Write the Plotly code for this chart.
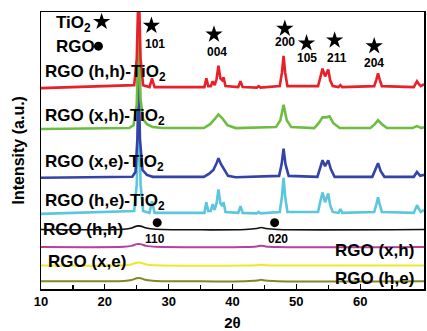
import plotly.graph_objects as go

# ---------------- data ----------------
# 2-theta sample points and intensities (a.u.) for each pattern
hh_tio2_x = [10, 24.6, 25.0, 25.3, 25.6, 26.0, 27.0, 27.25, 27.4, 27.55, 27.8, 35.6, 35.9, 36.2, 36.6, 36.9, 37.2, 37.5, 37.8, 38.1, 38.4, 38.6, 38.9, 40.9, 41.25, 41.6, 43.8, 44.1, 44.4, 47.4, 47.75, 48.0, 48.25, 48.6, 53.4, 53.8, 54.1, 54.5, 54.8, 55.0, 55.3, 55.7, 56.6, 56.9, 57.2, 62.2, 62.55, 62.8, 63.05, 63.4, 68.4, 68.7, 68.9, 69.2, 69.5, 70]
hh_tio2_y = [0, 3, 30, 110, 30, 3, 1, 6, 10, 6, 1, 1, 10, 2, 2, 7, 3, 9, 23, 10, 8, 11, 2, 1, 7, 1, 0.5, 2, 0.5, 2, 16, 33, 16, 2, 2, 12, 20, 12, 17, 19, 8, 2, 1, 3, 1, 2, 9, 15, 9, 2, 1, 5, 7, 4, 2, 4]

xh_tio2_x = [10, 23.8, 24.5, 25.0, 25.3, 25.6, 26.0, 26.6, 27.5, 29, 35.5, 36.5, 37.3, 37.8, 38.4, 39.2, 40.5, 46.8, 47.5, 48.0, 48.5, 49.2, 52.8, 53.5, 54.1, 54.7, 55.2, 55.8, 56.8, 61.6, 62.3, 62.8, 63.4, 64.2, 68.2, 68.9, 69.6, 70]
xh_tio2_y = [0, 1, 4, 25, 105, 30, 10, 5, 2, 1, 1, 5, 11, 15, 11, 4, 1, 2, 9, 25, 9, 2, 1, 6, 12, 12, 13, 6, 1, 1, 5, 9, 5, 1, 1, 3, 1, 2]

xe_tio2_x = [10, 24.3, 24.8, 25.1, 25.3, 25.5, 25.9, 26.6, 27.5, 35.5, 36.3, 37.0, 37.5, 37.8, 38.2, 38.6, 39.3, 40.5, 47.3, 47.7, 48.0, 48.3, 48.8, 53.3, 53.7, 54.1, 54.5, 55.0, 55.4, 56.0, 61.9, 62.4, 62.8, 63.2, 63.8, 68.4, 68.9, 69.4, 70]
xe_tio2_y = [0, 1, 6, 40, 105, 40, 8, 3, 1, 1, 4, 8, 15, 20, 14, 10, 2, 0.5, 2, 14, 30, 14, 2, 1, 10, 18, 12, 18, 9, 1, 1, 8, 15, 7, 1, 1, 6, 2, 3]

he_tio2_x = hh_tio2_x
he_tio2_y = [0, 3, 30, 110, 30, 3, 1, 8, 13, 8, 1, 1, 12, 3, 3, 10, 4, 11, 25, 11, 8, 12, 2, 1, 8, 1, 0.5, 2, 0.5, 2, 18, 37, 18, 2, 2, 14, 22, 12, 18, 21, 9, 2, 1, 5, 1, 2, 10, 17, 10, 2, 1, 6, 9, 5, 2, 4]

rgo_x = [10, 23.0, 24.2, 25.0, 25.6, 26.5, 28.0, 42.0, 43.8, 44.5, 45.2, 47.0, 70]
rgo_hh_y = [0, 0.3, 1.5, 3.5, 3.5, 1.5, 0.3, 0, 1, 2, 1, 0, 0]
rgo_xh_y = [0, 0.3, 1.2, 3.0, 3.0, 1.2, 0.3, 0, 0.6, 1.4, 0.6, 0, 0]
rgo_xe_y = [0, 0.3, 1.2, 3.0, 3.0, 1.2, 0.3, 0, 0.4, 0.8, 0.4, 0, 0]
rgo_he_y = [0, 0.3, 1.2, 3.0, 3.0, 1.2, 0.3, 0, 0.6, 1.4, 0.6, 0, 0]

# vertical stacking offsets of the patterns
offsets = {"hh_tio2": 206, "xh_tio2": 164, "xe_tio2": 114, "he_tio2": 77,
           "rgo_hh": 61, "rgo_xh": 43, "rgo_xe": 24, "rgo_he": 8}

# reflection labels
tio2_hkl = ["101", "004", "200", "105", "211", "204"]
rgo_hkl = ["110", "020"]

x_ticks = [10, 20, 30, 40, 50, 60, 70]

# ---------------- figure ----------------
FONT = "Arial, 'Liberation Sans', Helvetica, sans-serif"

def shift(vals, off):
    return [v + off for v in vals]

fig = go.Figure()

def add_line(x, y, off, color, width, spline=False):
    fig.add_trace(go.Scatter(
        x=x, y=shift(y, off), mode="lines",
        line=dict(color=color, width=width, shape="spline" if spline else "linear", smoothing=0.8),
        hoverinfo="skip", showlegend=False))

add_line(rgo_x, rgo_he_y, offsets["rgo_he"], "#85852a", 2, True)
add_line(rgo_x, rgo_xe_y, offsets["rgo_xe"], "#f0e62a", 2, True)
add_line(rgo_x, rgo_xh_y, offsets["rgo_xh"], "#b83fa0", 2, True)

# label drawn underneath the black RGO (h,h) line
fig.add_trace(go.Scatter(
    x=[10.3], y=[offsets["rgo_hh"] - 1], mode="text", text=["<b>RGO (h,h)</b>"],
    textposition="middle right", textfont=dict(family=FONT, size=17, color="black"),
    hoverinfo="skip", showlegend=False, cliponaxis=False))
add_line(rgo_x, rgo_hh_y, offsets["rgo_hh"], "#111111", 1.6, True)

add_line(he_tio2_x, he_tio2_y, offsets["he_tio2"], "#5cc6dc", 2.6)
add_line(xe_tio2_x, xe_tio2_y, offsets["xe_tio2"], "#3343a8", 2.6)
add_line(xh_tio2_x, xh_tio2_y, offsets["xh_tio2"], "#6cbd40", 2.6)
add_line(hh_tio2_x, hh_tio2_y, offsets["hh_tio2"], "#e8202a", 2.6)

# markers: stars over TiO2 reflections, dots over RGO reflections
star_pos = [(27.3, 270), (37.1, 261), (48.2, 267), (51.6, 252), (56.0, 255), (62.2, 249)]
star_lab = [(27.9, 251), (37.6, 243), (48.3, 253), (51.6, 237), (56.3, 237), (62.2, 232)]
dot_pos = [(28.2, 68), (46.6, 68)]
dot_lab = [(27.8, 51), (47.2, 51)]

fig.add_trace(go.Scatter(
    x=[p[0] for p in star_pos] + [19.5], y=[p[1] for p in star_pos] + [274],
    mode="markers", marker=dict(symbol="star", size=13, color="black", line=dict(width=0)),
    hoverinfo="skip", showlegend=False, cliponaxis=False))
fig.add_trace(go.Scatter(
    x=[p[0] for p in dot_pos] + [19.0], y=[p[1] for p in dot_pos] + [249],
    mode="markers", marker=dict(symbol="circle", size=9, color="black", line=dict(width=0)),
    hoverinfo="skip", showlegend=False, cliponaxis=False))

ann = []
def label(x, y, text, size=17, xanchor="left"):
    ann.append(dict(x=x, y=y, xref="x", yref="y", text=text, showarrow=False,
                    xanchor=xanchor, yanchor="middle",
                    font=dict(family=FONT, size=size, color="black")))

for (x, y), t in zip(star_lab, tio2_hkl):
    label(x, y, "<b>%s</b>" % t, 12, "center")
for (x, y), t in zip(dot_lab, rgo_hkl):
    label(x, y, "<b>%s</b>" % t, 12, "center")

label(12.1, 272, "<b>TiO<sub>2</sub></b>", 17)
label(12.1, 249, "<b>RGO</b>", 17)
label(10.3, 221, "<b>RGO (h,h)-TiO<sub>2</sub></b>")
label(10.3, 176, "<b>RGO (x,h)-TiO<sub>2</sub></b>")
label(10.3, 129, "<b>RGO (x,e)-TiO<sub>2</sub></b>")
label(10.3, 89, "<b>RGO (h,e)-TiO<sub>2</sub></b>")
label(10.8, 28, "<b>RGO (x,e)</b>")
label(68.7, 39, "<b>RGO (x,h)</b>", 17, "right")
label(68.7, 11, "<b>RGO (h,e)</b>", 17, "right")

ann.append(dict(x=-0.06, y=0.5, xref="paper", yref="paper", text="<b>Intensity (a.u.)</b>",
                textangle=-90, showarrow=False, xanchor="center", yanchor="middle",
                font=dict(family=FONT, size=16, color="black")))

fig.update_layout(
    width=427, height=331, autosize=False,
    margin=dict(l=41, r=1, t=12, b=35),
    paper_bgcolor="white", plot_bgcolor="white",
    hovermode=False,
    annotations=ann,
    xaxis=dict(range=[10, 70], tickvals=x_ticks, ticktext=["<b>%d</b>" % v for v in x_ticks],
               ticks="inside", ticklen=5, tickwidth=1.3, tickcolor="black",
               minor=dict(tickvals=[15, 25, 35, 45, 55, 65], ticks="inside", ticklen=4, tickwidth=1.3, tickcolor="black"),
               showline=True, linecolor="black", linewidth=1.5, mirror=True,
               showgrid=False, zeroline=False,
               tickfont=dict(family=FONT, size=13, color="black"),
               title=dict(text="<b>2θ</b>", font=dict(family=FONT, size=15, color="black"), standoff=10)),
    yaxis=dict(range=[0, 284], showticklabels=False, ticks="",
               showline=True, linecolor="black", linewidth=1.5, mirror=True,
               showgrid=False, zeroline=False),
)

# remove the default 8px page margin so the 427x331 figure fills the window
fig.write_html("out.html",
               config={"displayModeBar": False, "staticPlot": True},
               post_script="document.body.style.margin='0';document.body.style.overflow='hidden';")
